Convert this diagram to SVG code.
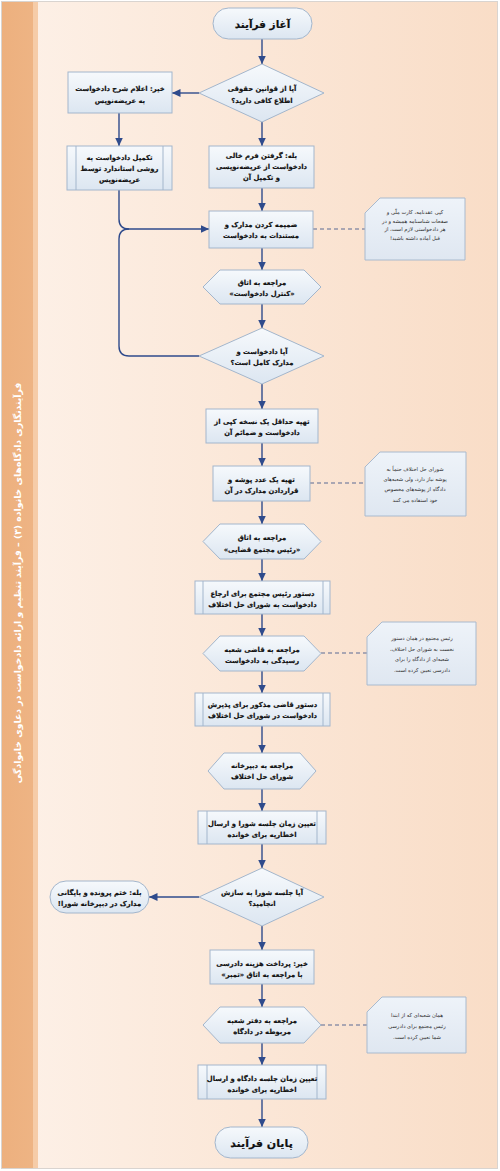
<svg xmlns="http://www.w3.org/2000/svg" width="500" height="1171" viewBox="0 0 500 1171">
<defs>
<linearGradient id="bg" x1="0" y1="0" x2="1" y2="0">
<stop offset="0" stop-color="#FDF1E8"/><stop offset="1" stop-color="#F9DDC7"/>
</linearGradient>
<linearGradient id="band" x1="0" y1="0" x2="1" y2="0">
<stop offset="0" stop-color="#EDB07E"/><stop offset="1" stop-color="#EEB484"/>
</linearGradient>
<linearGradient id="box" x1="0" y1="0" x2="0" y2="1">
<stop offset="0" stop-color="#F6F9FC"/><stop offset="1" stop-color="#DCE6F1"/>
</linearGradient>
<linearGradient id="note" x1="0" y1="0" x2="0" y2="1">
<stop offset="0" stop-color="#EEF3F9"/><stop offset="1" stop-color="#DFE7F1"/>
</linearGradient>
<marker id="ah" markerUnits="userSpaceOnUse" markerWidth="9" markerHeight="8" refX="8.5" refY="4" orient="auto">
<path d="M0,0 L8.5,4 L0,8 z" fill="#2F4B8C"/>
</marker>
<style>
.s{fill:url(#box);stroke:#A3B6CC;stroke-width:1}
.bar{stroke:#A3B6CC;stroke-width:1;fill:none}
.nt{fill:url(#note);stroke:#A9BACE;stroke-width:1}
.t{font-family:"DejaVu Sans","Noto Sans",sans-serif;font-weight:bold;font-size:6.8px;fill:#111111;stroke:#111111;stroke-width:0.18;text-anchor:middle;direction:rtl}
.n{font-family:"DejaVu Sans","Noto Sans",sans-serif;font-size:5.2px;fill:#2A2A2A;text-anchor:middle;direction:rtl}
.c{fill:none;stroke:#2F4B8C;stroke-width:1.4}
.a{marker-end:url(#ah)}
.d{fill:none;stroke:#5A6A94;stroke-width:1.2;stroke-dasharray:4,3}
.title{font-family:"DejaVu Sans","Noto Sans",sans-serif;font-weight:bold;font-size:9.3px;fill:#FFFFFF;text-anchor:middle;direction:rtl}
</style>
</defs>

<g id="background">
<rect x="1.5" y="1.5" width="496" height="1167" fill="url(#bg)" stroke="#D9D4D0" stroke-width="1"/>
<rect x="2" y="2" width="31" height="1166" fill="url(#band)"/>
<rect x="33" y="2" width="5" height="1166" fill="#F6CCA8"/>
<text class="title" x="17" y="583" dominant-baseline="central" transform="rotate(-90 17 583)">فرآیندنگاری دادگاه‌های خانواده (۳) – فرآیند تنظیم و ارائه دادخواست در دعاوی خانوادگی</text>
</g>

<g id="connectors">
<line class="c a" x1="262" y1="39" x2="262" y2="64"/>
<line class="c a" x1="199" y1="93" x2="172" y2="93"/>
<line class="c a" x1="262" y1="122" x2="262" y2="146"/>
<line class="c a" x1="119" y1="113" x2="119" y2="146"/>
<line class="c a" x1="262" y1="188" x2="262" y2="211"/>
<path class="c a" d="M119,190 V219 Q119,229 129,229 H209"/>
<path class="c" d="M199,356 H129 Q119,356 119,346 V239 Q119,229 129,229"/>
<line class="c a" x1="262" y1="248" x2="262" y2="270"/>
<line class="c a" x1="262" y1="304" x2="262" y2="328"/>
<line class="c a" x1="262" y1="384" x2="262" y2="409"/>
<line class="c a" x1="262" y1="443" x2="262" y2="466"/>
<line class="c a" x1="262" y1="501" x2="262" y2="524"/>
<line class="c a" x1="262" y1="559" x2="262" y2="581"/>
<line class="c a" x1="262" y1="614" x2="262" y2="636"/>
<line class="c a" x1="262" y1="671" x2="262" y2="693"/>
<line class="c a" x1="262" y1="726" x2="262" y2="753"/>
<line class="c a" x1="262" y1="789" x2="262" y2="811"/>
<line class="c a" x1="262" y1="844" x2="262" y2="868"/>
<line class="c a" x1="199" y1="897" x2="149" y2="897"/>
<line class="c a" x1="262" y1="926" x2="262" y2="950"/>
<line class="c a" x1="262" y1="984" x2="262" y2="1007"/>
<line class="c a" x1="262" y1="1043" x2="262" y2="1065"/>
<line class="c a" x1="262" y1="1099" x2="262" y2="1127"/>
<line class="d" x1="313" y1="229" x2="365" y2="229"/>
<line class="d" x1="310" y1="483" x2="365" y2="483"/>
<line class="d" x1="321" y1="653" x2="367" y2="653"/>
<line class="d" x1="321" y1="1025" x2="367" y2="1025"/>
</g>

<g id="start">
<rect class="s" x="213" y="8" width="99" height="31" rx="15.5"/>
<text class="t" x="262.5" y="27.5" style="font-size:10.5px">آغاز فرآیند</text>
</g>

<g id="decision1">
<polygon class="s" points="262,64 324,93 262,122 199,93"/>
<text class="t" x="262" y="91">آیا از قوانین حقوقی</text>
<text class="t" x="262" y="102.5">اطلاع کافی دارید؟</text>
</g>

<g id="no1">
<rect class="s" x="68" y="72" width="104" height="41"/>
<text class="t" x="120" y="91">خیر: اعلام شرح دادخواست</text>
<text class="t" x="120" y="102.5">به عریضه‌نویس</text>
</g>

<g id="complete-standard">
<rect class="s" x="67" y="146" width="105" height="44"/>
<line class="bar" x1="76" y1="146" x2="76" y2="190"/>
<line class="bar" x1="163" y1="146" x2="163" y2="190"/>
<text class="t" x="119.5" y="160">تکمیل دادخواست به</text>
<text class="t" x="119.5" y="171">روشی استاندارد توسط</text>
<text class="t" x="119.5" y="182">عریضه‌نویس</text>
</g>

<g id="yes1">
<rect class="s" x="209" y="146" width="105" height="42"/>
<text class="t" x="261.5" y="158">بله: گرفتن فرم خالی</text>
<text class="t" x="261.5" y="169">دادخواست از عریضه‌نویسی</text>
<text class="t" x="261.5" y="180">و تکمیل آن</text>
</g>

<g id="attach">
<rect class="s" x="209" y="211" width="104" height="37"/>
<text class="t" x="261" y="227">ضمیمه کردن مدارک و</text>
<text class="t" x="261" y="238">مستندات به دادخواست</text>
</g>

<g id="note1">
<polygon class="nt" points="380,198 465,198 465,260 365,260 365,213"/>
<text class="n" x="415" y="214">کپی عقدنامه، کارت ملّی و</text>
<text class="n" x="415" y="222.5">صفحات شناسنامه همیشه و در</text>
<text class="n" x="415" y="231">هر دادخواستی لازم است، از</text>
<text class="n" x="415" y="239.5">قبل آماده داشته باشید!</text>
</g>

<g id="room-control">
<polygon class="s" points="203,287 220,270 304,270 321,287 304,304 220,304"/>
<text class="t" x="262" y="285">مراجعه به اتاق</text>
<text class="t" x="262" y="296">«کنترل دادخواست»</text>
</g>

<g id="decision2">
<polygon class="s" points="262,328 324,356 262,384 199,356"/>
<text class="t" x="262" y="354">آیا دادخواست و</text>
<text class="t" x="262" y="365">مدارک کامل است؟</text>
</g>

<g id="copy">
<rect class="s" x="206" y="409" width="112" height="34"/>
<text class="t" x="262" y="424">تهیه حداقل یک نسخه کپی از</text>
<text class="t" x="262" y="435">دادخواست و ضمائم آن</text>
</g>

<g id="folder">
<rect class="s" x="213" y="466" width="97" height="35"/>
<text class="t" x="261.5" y="482">تهیه یک عدد پوشه و</text>
<text class="t" x="261.5" y="493">قراردادن مدارک در آن</text>
</g>

<g id="note2">
<polygon class="nt" points="380,452 466,452 466,516 365,516 365,467"/>
<text class="n" x="415" y="471">شورای حل اختلاف حتماً به</text>
<text class="n" x="415" y="481">پوشه نیاز دارد، ولی شعبه‌های</text>
<text class="n" x="415" y="491">دادگاه از پوشه‌های مخصوص</text>
<text class="n" x="415" y="501.5">خود استفاده می کنند</text>
</g>

<g id="room-head">
<polygon class="s" points="203,541.5 220,524 304,524 321,541.5 304,559 220,559"/>
<text class="t" x="262" y="540">مراجعه به اتاق</text>
<text class="t" x="262" y="551.5">«رئیس مجتمع قضایی»</text>
</g>

<g id="order-head">
<rect class="s" x="195" y="581" width="135" height="33"/>
<line class="bar" x1="203" y1="581" x2="203" y2="614"/>
<line class="bar" x1="323" y1="581" x2="323" y2="614"/>
<text class="t" x="262.5" y="596">دستور رئیس مجتمع برای ارجاع</text>
<text class="t" x="262.5" y="607">دادخواست به شورای حل اختلاف</text>
</g>

<g id="judge">
<polygon class="s" points="203,653.5 220,636 304,636 321,653.5 304,671 220,671"/>
<text class="t" x="262" y="652">مراجعه به قاضی شعبه</text>
<text class="t" x="262" y="663">رسیدگی به دادخواست</text>
</g>

<g id="note3">
<polygon class="nt" points="382,622 476,622 476,685 367,685 367,637"/>
<text class="n" x="422" y="640">رئیس مجتمع در همان دستور</text>
<text class="n" x="422" y="650.5">نخست به شورای حل اختلاف،</text>
<text class="n" x="422" y="661">شعبه‌ای از دادگاه را برای</text>
<text class="n" x="422" y="671.5">دادرسی تعیین کرده است.</text>
</g>

<g id="order-judge">
<rect class="s" x="195" y="693" width="135" height="33"/>
<line class="bar" x1="203" y1="693" x2="203" y2="726"/>
<line class="bar" x1="323" y1="693" x2="323" y2="726"/>
<text class="t" x="262.5" y="707">دستور قاضی مذکور برای پذیرش</text>
<text class="t" x="262.5" y="718">دادخواست در شورای حل اختلاف</text>
</g>

<g id="secretariat">
<polygon class="s" points="208,771 224,753 300,753 316,771 300,789 224,789"/>
<text class="t" x="262" y="768">مراجعه به دبیرخانه</text>
<text class="t" x="262" y="779">شورای حل اختلاف</text>
</g>

<g id="council-session">
<rect class="s" x="198" y="811" width="128" height="33"/>
<line class="bar" x1="207" y1="811" x2="207" y2="844"/>
<line class="bar" x1="317" y1="811" x2="317" y2="844"/>
<text class="t" x="262" y="826">تعیین زمان جلسه شورا و ارسال</text>
<text class="t" x="262" y="837">اخطاریه برای خوانده</text>
</g>

<g id="decision3">
<polygon class="s" points="262,868 324,897 262,926 199,897"/>
<text class="t" x="262" y="895">آیا جلسه شورا به سازش</text>
<text class="t" x="262" y="906">انجامید؟</text>
</g>

<g id="yes-end">
<rect class="s" x="50" y="881" width="99" height="32" rx="16"/>
<text class="t" x="99.5" y="895">بله: ختم پرونده و بایگانی</text>
<text class="t" x="99.5" y="905.5">مدارک در دبیرخانه شورا!</text>
</g>

<g id="fee">
<rect class="s" x="210" y="950" width="104" height="34"/>
<text class="t" x="262" y="966">خیر: پرداخت هزینه دادرسی</text>
<text class="t" x="262" y="976.5">با مراجعه به اتاق «تمبر»</text>
</g>

<g id="branch-office">
<polygon class="s" points="203,1025 220,1007 304,1007 321,1025 304,1043 220,1043"/>
<text class="t" x="262" y="1023">مراجعه به دفتر شعبه</text>
<text class="t" x="262" y="1034">مربوطه در دادگاه</text>
</g>

<g id="note4">
<polygon class="nt" points="382,997 466,997 466,1053 367,1053 367,1012"/>
<text class="n" x="417" y="1016.5">همان شعبه‌ای که از ابتدا</text>
<text class="n" x="417" y="1027.5">رئیس مجتمع برای دادرسی</text>
<text class="n" x="417" y="1038.5">شما تعیین کرده است.</text>
</g>

<g id="court-session">
<rect class="s" x="198" y="1065" width="128" height="34"/>
<line class="bar" x1="207" y1="1065" x2="207" y2="1099"/>
<line class="bar" x1="317" y1="1065" x2="317" y2="1099"/>
<text class="t" x="262" y="1081">تعیین زمان جلسه دادگاه و ارسال</text>
<text class="t" x="262" y="1092">اخطاریه برای خوانده</text>
</g>

<g id="end">
<rect class="s" x="215" y="1127" width="93" height="31" rx="15.5"/>
<text class="t" x="261.5" y="1146.5" style="font-size:11px">پایان فرآیند</text>
</g>
</svg>
